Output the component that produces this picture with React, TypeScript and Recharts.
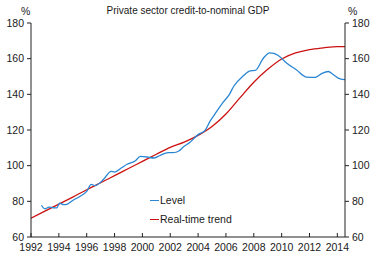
import React from "react";
import { LineChart, Line, XAxis, YAxis } from "recharts";

const title = "Private sector credit-to-nominal GDP";
const unitLabel = "%";
const seriesNames = ["Level", "Real-time trend"];
const yearTicks = [1992, 1994, 1996, 1998, 2000, 2002, 2004, 2006, 2008, 2010, 2012, 2014];
const valueTicks = [60, 80, 100, 120, 140, 160, 180];

const levelYears = [
  1992.75, 1993.0, 1993.3, 1993.6, 1993.85, 1994.05, 1994.35, 1994.65, 1995.0, 1995.5,
  1996.0, 1996.33, 1996.6, 1997.2, 1997.75, 1998.0, 1998.5, 1998.9, 1999.5, 1999.85,
  2000.4, 2000.8, 2001.25, 2001.85, 2002.2, 2002.65, 2002.95, 2003.4, 2004.0, 2004.5,
  2004.85, 2005.3, 2005.8, 2006.25, 2006.55, 2007.25, 2007.75, 2008.1, 2008.7, 2009.15,
  2009.45, 2009.8, 2010.35, 2011.05, 2011.8, 2012.4, 2012.9, 2013.35, 2013.7, 2014.2, 2014.55,
];
const levelValues = [
  77.8, 75.8, 76.8, 76.4, 76.3, 79.0, 78.1, 78.6, 80.5, 82.7,
  85.6, 89.5, 88.8, 92.2, 96.8, 96.4, 98.8, 100.8, 102.8, 105.2,
  104.8, 104.3, 105.7, 107.3, 107.3, 108.4, 110.6, 113.0, 117.4, 119.8,
  124.8, 130.0, 135.6, 140.0, 144.4, 150.4, 153.2, 153.4, 160.4, 163.2,
  163.0, 161.5, 157.6, 153.8, 149.7, 149.5, 151.8, 152.8, 151.1, 148.6, 148.2,
];

const trendYears = [
  1992, 1993, 1994, 1995, 1996, 1997, 1998, 1999, 2000, 2001, 2002, 2003, 2004,
  2005, 2006, 2007, 2008, 2009, 2010, 2011, 2012, 2013, 2014, 2014.55,
];
const trendValues = [
  70.5, 74.5, 78.4, 82.4, 86.5, 90.4, 94.4, 98.4, 102.4, 106.4, 110.3, 113.2, 117.0,
  122.0, 129.0, 138.0, 146.8, 154.0, 159.8, 163.2, 165.1, 166.1, 166.8, 166.8,
];

const levelData = levelYears.map((year, i) => ({ year, value: levelValues[i] }));
const trendData = trendYears.map((year, i) => ({ year, value: trendValues[i] }));

const FONT = "'Liberation Sans', Arial, sans-serif";
const TEXT = "#1a1a1a";
const AXIS = "#222";
const BLUE = "#2a86d2";
const RED = "#cc1111";

const XTick = (props: any) => {
  const { x, y, payload } = props;
  const axisY = y - 5;
  return (
    <g>
      <line x1={x} x2={x} y1={axisY} y2={axisY - 4} stroke={AXIS} strokeWidth={1} />
      <text x={x} y={axisY + 14} textAnchor="middle" fontSize={10.5} fill={TEXT} fontFamily={FONT}>
        {payload.value}
      </text>
    </g>
  );
};

export default function App() {
  return (
    <div style={{ position: "absolute", left: 0, top: 0, width: 373, height: 254, fontFamily: FONT }}>
      <LineChart
        width={373}
        height={254}
        margin={{ top: 23, right: 0, bottom: 0, left: 0 }}
      >
        <XAxis
          dataKey="year"
          type="number"
          domain={[1992, 2014.55]}
          ticks={yearTicks}
          interval={0}
          allowDataOverflow
          height={17}
          tickSize={0}
          tickMargin={5}
          tickLine={false}
          axisLine={{ stroke: AXIS }}
          tick={<XTick />}
        />
        <YAxis
          yAxisId="left"
          orientation="left"
          width={31}
          domain={[60, 180]}
          ticks={valueTicks}
          interval={0}
          tickSize={4}
          tickMargin={3}
          axisLine={{ stroke: AXIS }}
          tickLine={{ stroke: AXIS }}
          tick={{ fontSize: 10.5, fill: TEXT, fontFamily: FONT }}
        />
        <YAxis
          yAxisId="right"
          orientation="right"
          width={28}
          domain={[60, 180]}
          ticks={valueTicks}
          interval={0}
          tickSize={4}
          tickMargin={3}
          axisLine={{ stroke: AXIS }}
          tickLine={{ stroke: AXIS }}
          tick={{ fontSize: 10.5, fill: TEXT, fontFamily: FONT }}
        />
        <Line
          yAxisId="right"
          data={trendData}
          dataKey="value"
          name={seriesNames[1]}
          type="monotone"
          stroke={RED}
          strokeWidth={1.3}
          dot={false}
          isAnimationActive={false}
        />
        <Line
          yAxisId="left"
          data={levelData}
          dataKey="value"
          name={seriesNames[0]}
          type="monotone"
          stroke={BLUE}
          strokeWidth={1.3}
          dot={false}
          isAnimationActive={false}
        />
      </LineChart>
      <div style={{ position: "absolute", left: 0, width: 376, top: 5, textAlign: "center", fontSize: 10, color: TEXT, whiteSpace: "nowrap" }}>
        {title}
      </div>
      <div style={{ position: "absolute", left: 21, top: 5, fontSize: 10.5, color: TEXT }}>{unitLabel}</div>
      <div style={{ position: "absolute", left: 348, top: 5, fontSize: 10.5, color: TEXT }}>{unitLabel}</div>
      <div style={{ position: "absolute", left: 150, top: 194, fontSize: 10.5, color: TEXT, lineHeight: "13px" }}>
        <div style={{ display: "flex", alignItems: "center", height: 13 }}>
          <span style={{ display: "inline-block", width: 9, height: 1.5, background: BLUE, marginRight: 1 }} />
          <span>{seriesNames[0]}</span>
        </div>
        <div style={{ display: "flex", alignItems: "center", height: 13, marginTop: 6 }}>
          <span style={{ display: "inline-block", width: 9, height: 1.5, background: RED, marginRight: 1 }} />
          <span>{seriesNames[1]}</span>
        </div>
      </div>
    </div>
  );
}
